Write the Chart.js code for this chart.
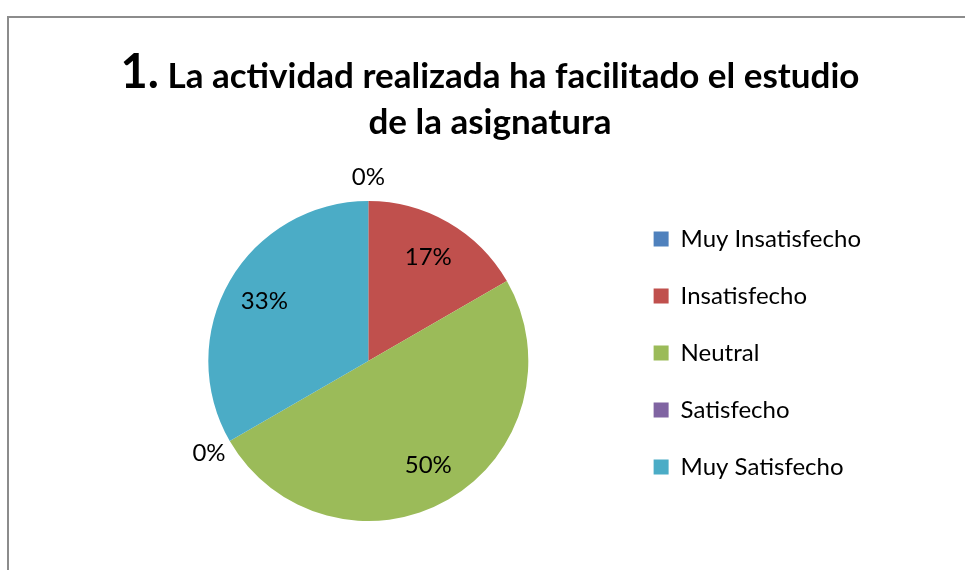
<!DOCTYPE html>
<html>
<head>
<meta charset="UTF-8">
<title>Pregunta 1</title>
<script src="https://cdn.jsdelivr.net/npm/chart.js"></script>
<style>
body { margin: 0; background: #fff; }
#wrap { position: relative; width: 965px; height: 570px; overflow: hidden; }
#frame { position: absolute; left: 7px; top: 16px; width: 1000px; height: 600px;
         border-left: 2px solid #8c8c8c; border-top: 2px solid #8c8c8c; }
#titulo { position: absolute; left: 0; width: 980px; top: 47px; text-align: center;
          font-family: Lato, sans-serif; font-weight: bold; font-size: 35px; line-height: 46px; color: #000; }
#titulo .num { font-size: 47px; }
canvas { position: absolute; left: 0; top: 0; }
</style>
</head>
<body>
<div id="wrap">
  <div id="frame"></div>
  <canvas id="myChart" width="965" height="570"></canvas>
  <div id="titulo"><span class="num">1.</span> La actividad realizada ha facilitado el estudio<br>de la asignatura</div>
</div>
<script>
// respuestas de la pregunta 1
const categorias = ['Muy Insatisfecho', 'Insatisfecho', 'Neutral', 'Satisfecho', 'Muy Satisfecho'];
const respuestas = [0, 1, 3, 0, 2];
const colores = ['#4F81BD', '#C0504D', '#9BBB59', '#8064A2', '#4BACC6'];

// etiquetas de porcentaje sobre cada sector
const etiquetas = {
  id: 'etiquetas',
  afterDatasetsDraw(chart) {
    const ctx = chart.ctx;
    const meta = chart.getDatasetMeta(0);
    const total = respuestas.reduce((a, b) => a + b, 0);
    ctx.save();
    ctx.font = '24px Lato, sans-serif';
    ctx.fillStyle = '#000';
    ctx.textAlign = 'center';
    ctx.textBaseline = 'middle';
    meta.data.forEach((arc, i) => {
      const p = arc.getProps(['x', 'y', 'startAngle', 'endAngle', 'outerRadius'], true);
      const mid = (p.startAngle + p.endAngle) / 2;
      const r = respuestas[i] > 0 ? p.outerRadius * 0.75 : p.outerRadius + 24;
      const txt = Math.round(respuestas[i] / total * 100) + '%';
      ctx.fillText(txt, p.x + Math.cos(mid) * r, p.y + Math.sin(mid) * r);
    });
    ctx.restore();
  }
};

const ctx = document.getElementById('myChart').getContext('2d');
const myChart = new Chart(ctx, {
  type: 'pie',
  data: {
    labels: categorias,
    datasets: [{
      data: respuestas,
      backgroundColor: colores,
      borderWidth: 0,
      radius: 160
    }]
  },
  options: {
    responsive: false,
    animation: false,
    layout: { padding: { left: 116, right: 94, top: 194, bottom: 42 } },
    plugins: {
      tooltip: { enabled: false },
      legend: {
        position: 'right',
        align: 'start',
        labels: {
          boxWidth: 15,
          boxHeight: 15,
          padding: 33,
          color: '#000',
          font: { family: 'Lato, sans-serif', size: 24 }
        }
      }
    }
  },
  plugins: [etiquetas]
});
</script>
</body>
</html>
